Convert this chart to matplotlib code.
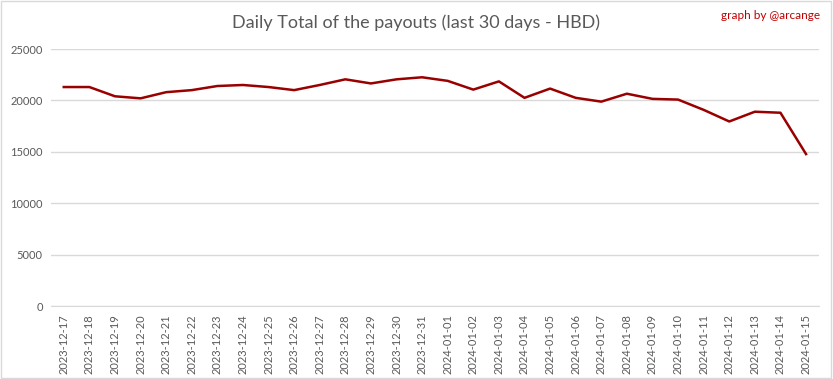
import matplotlib.pyplot as plt

dates = ['2023-12-17', '2023-12-18', '2023-12-19', '2023-12-20', '2023-12-21',
         '2023-12-22', '2023-12-23', '2023-12-24', '2023-12-25', '2023-12-26',
         '2023-12-27', '2023-12-28', '2023-12-29', '2023-12-30', '2023-12-31',
         '2024-01-01', '2024-01-02', '2024-01-03', '2024-01-04', '2024-01-05',
         '2024-01-06', '2024-01-07', '2024-01-08', '2024-01-09', '2024-01-10',
         '2024-01-11', '2024-01-12', '2024-01-13', '2024-01-14', '2024-01-15']
payouts = [21300, 21300, 20400, 20200, 20800, 21000, 21400, 21500, 21300, 21000,
           21500, 22050, 21650, 22050, 22250, 21900, 21050, 21850, 20250, 21150,
           20250, 19880, 20650, 20150, 20080, 19080, 17950, 18900, 18800, 14780]
yticks = [0, 5000, 10000, 15000, 20000, 25000]

plt.rcParams['font.family'] = ['Lato', 'DejaVu Sans']

fig = plt.figure(figsize=(8.33, 3.79), dpi=100)
ax = fig.add_axes([0.0612, 0.1926, 0.9218, 0.6781])

ax.plot(range(len(dates)), payouts, color='#990000', linewidth=1.8)

ax.set_xlim(-0.5, len(dates) - 0.5)
ax.set_ylim(0, 25000)
ax.set_yticks(yticks)
ax.set_yticklabels([str(v) for v in yticks])
ax.set_xticks(range(len(dates)))
ax.set_xticklabels(dates, rotation=90)
ax.tick_params(axis='both', length=0, labelsize=8, colors='#595959', pad=6)
ax.grid(axis='y', color='#d9d9d9', linewidth=1)
ax.set_axisbelow(True)
for s in ['top', 'right', 'left']:
    ax.spines[s].set_visible(False)
ax.spines['bottom'].set_color('#d9d9d9')

fig.text(0.5, 0.94, 'Daily Total of the payouts (last 30 days - HBD)',
         ha='center', va='center', fontsize=13, color='#595959')
fig.text(0.985, 0.96, 'graph by @arcange', ha='right', va='center',
         fontsize=8.5, color='#c00000')

# light border round the picture
fig.patches.append(plt.Rectangle((0.001, 0.002), 0.997, 0.995, transform=fig.transFigure,
                                 fill=False, edgecolor='#d9d9d9', linewidth=1))

plt.savefig('out.png', dpi=100)
